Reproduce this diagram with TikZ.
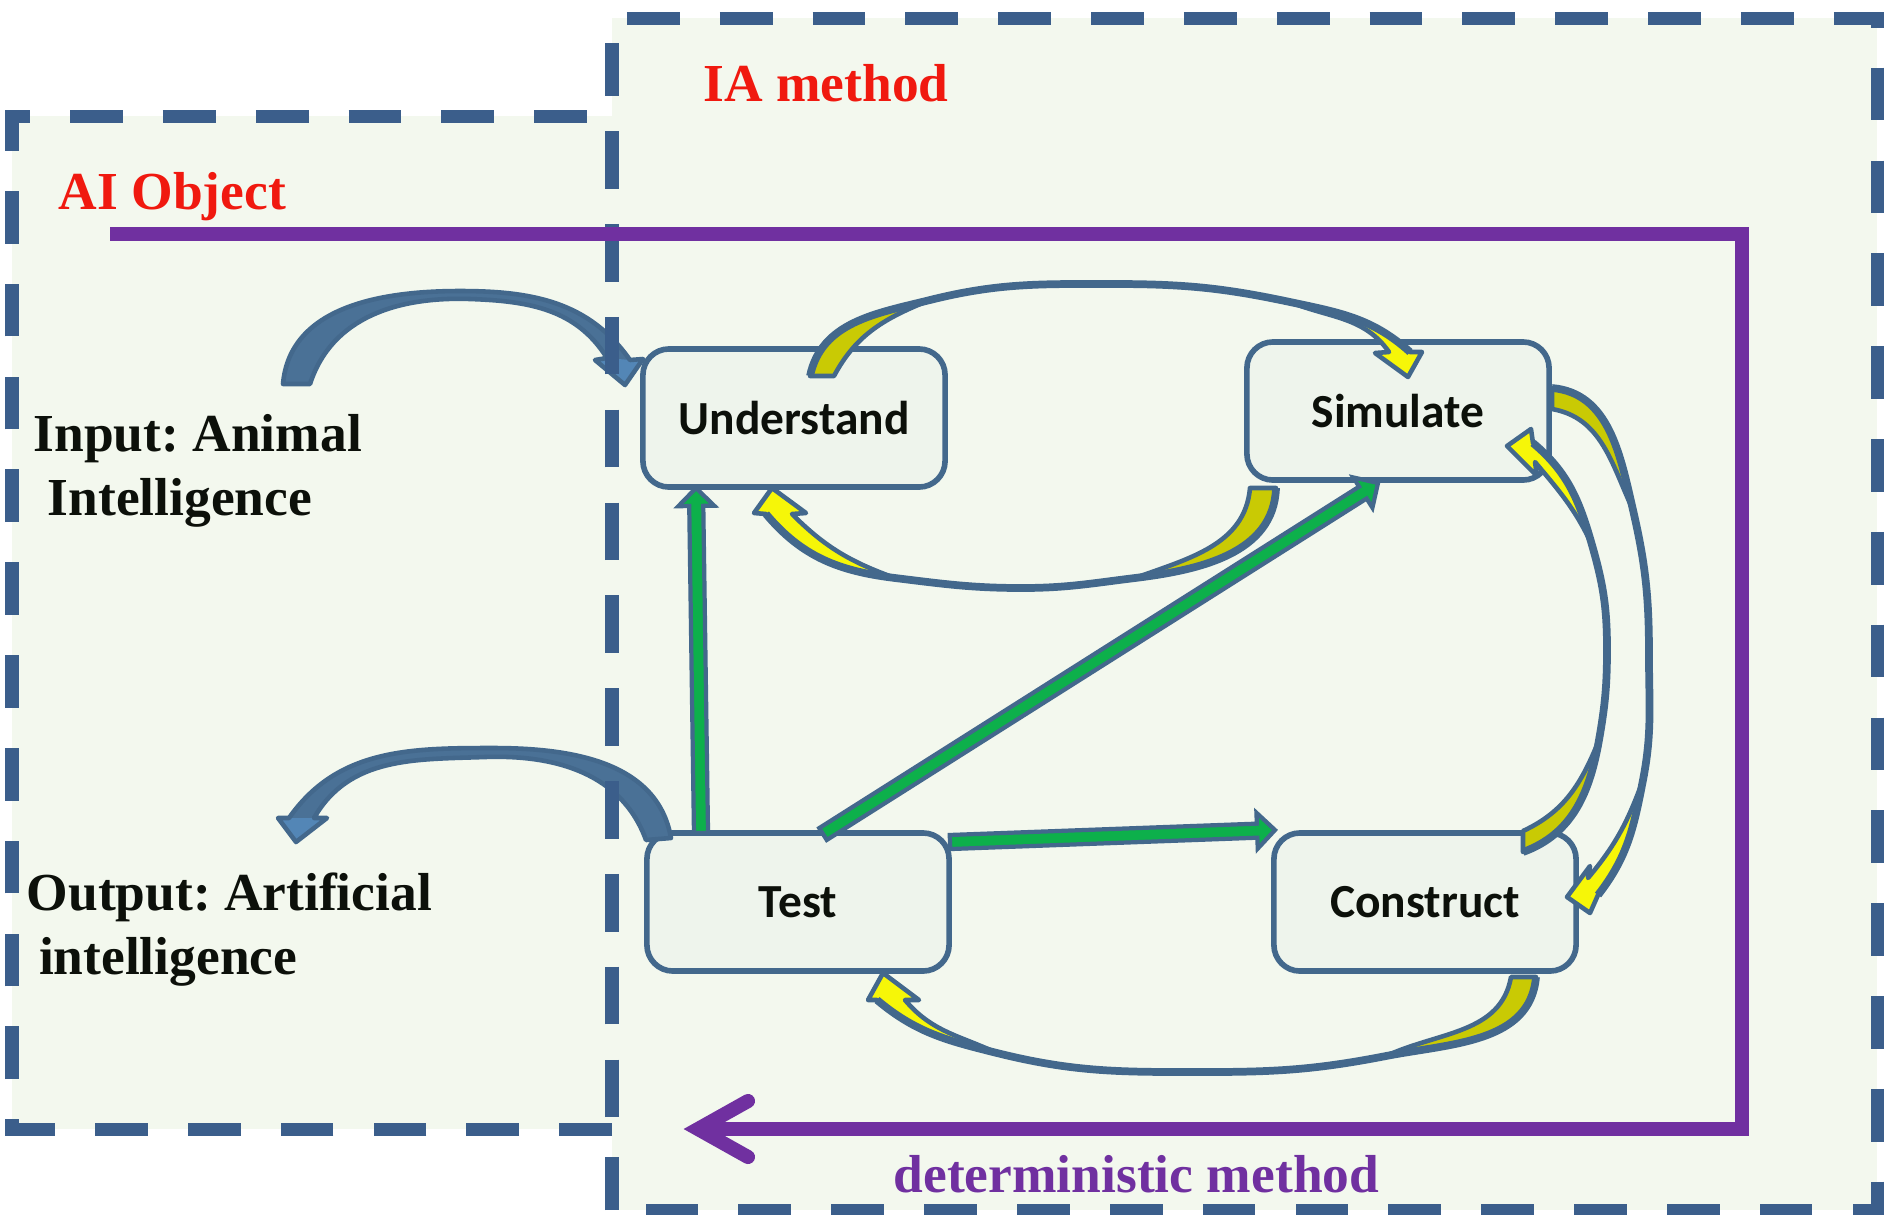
\documentclass[tikz,border=0pt]{standalone}
\usepackage{fontspec}
\setmainfont{Liberation Serif}
\newfontfamily\carlito{Carlito}
\usetikzlibrary{calc}
\definecolor{dashblue}{HTML}{3B5E8B}
\definecolor{edgeblue}{HTML}{43688C}
\definecolor{regionfill}{HTML}{F3F8EE}
\definecolor{stagefill}{HTML}{EEF4EC}
\definecolor{ribolive}{HTML}{C9CA04}
\definecolor{ribyellow}{HTML}{F6F608}
\definecolor{blkgreen}{HTML}{0DB04B}
\definecolor{detpurple}{HTML}{7030A0}
\definecolor{lblred}{HTML}{F0190F}
\definecolor{bodyblue}{HTML}{4A7196}
\definecolor{headblue}{HTML}{5386B6}
\definecolor{inkblack}{HTML}{0C100A}
\newcommand\placept[3]{\path (#1.center) ++(#2) coordinate (#3);}
\newcommand\blockarrow[2]{%
  \path ($(#2)!5.1pt!(#1)$) coordinate (#1#2h);
  \draw[garrow] ($(#1)!2pt!90:(#2)$) -- ($(#1#2h)!2pt!90:(#2)$) -- ($(#1#2h)!5.1pt!90:(#2)$) -- (#2) -- ($(#1#2h)!5.1pt!-90:(#2)$) -- ($(#1#2h)!2pt!-90:(#2)$) -- ($(#1)!2pt!-90:(#2)$) -- cycle;}
\begin{document}
\begin{tikzpicture}[x=0.01cm,y=0.01cm,
  stage/.style={draw=edgeblue, line width=1.6pt, fill=stagefill, rounded corners=0.26cm, minimum width=3.02cm, minimum height=1.38cm, inner sep=0pt, font=\carlito\bfseries\fontsize{13.5}{16}\selectfont, text=inkblack},
  region/.style={draw=dashblue, line width=3.7pt, dash pattern=on 15pt off 11.4pt},
  ribedge/.style={draw=edgeblue, line width=1.3pt, line join=round},
  ribspine/.style={draw=edgeblue, line width=2.2pt},
  garrow/.style={draw=edgeblue, line width=1.2pt, fill=blkgreen, line join=miter},
  barrow/.style={draw=edgeblue, line width=1.3pt, line join=round},
  detline/.style={draw=detpurple, line width=4pt},
  lbl/.style={font=\bfseries\fontsize{15.2}{18.2}\selectfont\frenchspacing, text=inkblack, inner sep=0pt, align=left},
  title/.style={font=\bfseries\fontsize{15.2}{18.2}\selectfont\frenchspacing, inner sep=0pt}
]
\fill[white] (0,0) rectangle (1884,-1214);
\useasboundingbox (0,0) rectangle (1884,-1214);
\fill[regionfill] (612,-18) rectangle (1877,-1210);
\fill[regionfill] (12,-116) rectangle (612,-1129);

% stages
\node[stage] (und) at (794,-418) {Understand};
\node[stage] (sim) at (1398,-411) {Simulate};
\node[stage] (tst) at (798,-902) {Test};
\node[stage] (con) at (1425,-902) {Construct};

% ---- ribbon A: Understand -> Simulate (top)
\placept{und}{16,42}{aS1} \placept{und}{40,42}{aS2}
\placept{sim}{12,59}{aE1} \placept{sim}{-9,59}{aE2}
\placept{sim}{24,59}{aH1} \placept{sim}{10,34}{aT} \placept{sim}{-23,58}{aH2}
\coordinate (aM1) at (930,-300); \coordinate (aP) at (1113,-284); \coordinate (aM2) at (1290,-302);
\draw[ribedge, fill=ribolive] (aS1) to[out=78,in=194] (aM1) to[out=202,in=62] (aS2) -- cycle;
\draw[ribedge, fill=ribyellow] (aM2) to[out=-12,in=138] (aE1) -- (aH1) -- (aT) -- (aH2) -- (aE2) to[out=125,in=-22] (aM2) -- cycle;
\draw[ribspine] (aS1) to[out=78,in=194] (aM1) to[out=14,in=180] (aP) to[out=0,in=168] (aM2) to[out=-12,in=138] (aE1);

% ---- ribbon B: Simulate -> Understand (bottom)
\placept{sim}{-122,-77}{bS1} \placept{sim}{-148,-77}{bS2}
\placept{und}{-28,-96}{bE1} \placept{und}{-2,-96}{bE2}
\placept{und}{-40,-95}{bH1} \placept{und}{-22,-70}{bT} \placept{und}{12,-95}{bH2}
\coordinate (bM1) at (1135,-578); \coordinate (bP) at (1022,-588); \coordinate (bM2) at (895,-578);
\draw[ribedge, fill=ribolive] (bS1) to[out=-92,in=7] (bM1) to[out=20,in=-95] (bS2) -- cycle;
\draw[ribedge, fill=ribyellow] (bM2) to[out=173,in=-50] (bE1) -- (bH1) -- (bT) -- (bH2) -- (bE2) to[out=-45,in=160] (bM2) -- cycle;
\draw[ribspine] (bS1) to[out=-92,in=7] (bM1) to[out=187,in=0] (bP) to[out=180,in=-7] (bM2) to[out=173,in=-50] (bE1);

% ---- ribbon C: Simulate -> Construct (outer right)
\placept{sim}{154,23}{cS1} \placept{sim}{154,2}{cS2}
\placept{con}{173,7}{cE1} \placept{con}{163,24}{cE2}
\placept{con}{165,-11}{cH1} \placept{con}{142,5}{cT} \placept{con}{165,36}{cH2}
\coordinate (cM1) at (1633,-510); \coordinate (cP) at (1649,-656); \coordinate (cM2) at (1643,-780);
\draw[ribedge, fill=ribolive] (cS1) to[out=-5,in=103] (cM1) to[out=115,in=-10] (cS2) -- cycle;
\draw[ribedge, fill=ribyellow] (cM2) to[out=-101,in=52] (cE1) -- (cH1) -- (cT) -- (cH2) -- (cE2) to[out=50,in=-110] (cM2) -- cycle;
\draw[ribspine] (cS1) to[out=-5,in=103] (cM1) to[out=-77,in=90] (cP) to[out=-90,in=79] (cM2) to[out=-101,in=52] (cE1);

% ---- ribbon D: Construct -> Simulate (inner right)
\placept{con}{98,50}{dS1} \placept{con}{98,71}{dS2}
\placept{sim}{135,-32}{dE1} \placept{sim}{137,-51}{dE2}
\placept{sim}{133,-18}{dH1} \placept{sim}{109,-35}{dT} \placept{sim}{139,-65}{dH2}
\coordinate (dM1) at (1599,-740); \coordinate (dP) at (1607,-649); \coordinate (dM2) at (1592,-545);
\draw[ribedge, fill=ribolive] (dS1) to[out=20,in=-100] (dM1) to[out=-112,in=25] (dS2) -- cycle;
\draw[ribedge, fill=ribyellow] (dM2) to[out=106,in=-40] (dE1) -- (dH1) -- (dT) -- (dH2) -- (dE2) to[out=-50,in=115] (dM2) -- cycle;
\draw[ribspine] (dS1) to[out=20,in=-100] (dM1) to[out=80,in=-90] (dP) to[out=90,in=-74] (dM2) to[out=106,in=-40] (dE1);

% ---- ribbon E: Construct -> Test (bottom)
\placept{con}{111,-75}{eS1} \placept{con}{86,-75}{eS2}
\placept{tst}{79,-98}{eE1} \placept{tst}{107,-98}{eE2}
\placept{tst}{70,-98}{eH1} \placept{tst}{85,-71}{eT} \placept{tst}{121,-98}{eH2}
\coordinate (eM1) at (1386,-1056); \coordinate (eP) at (1207,-1072); \coordinate (eM2) at (997,-1053);
\draw[ribedge, fill=ribolive] (eS1) to[out=-95,in=11] (eM1) to[out=25,in=-100] (eS2) -- cycle;
\draw[ribedge, fill=ribyellow] (eM2) to[out=166,in=-40] (eE1) -- (eH1) -- (eT) -- (eH2) -- (eE2) to[out=-50,in=155] (eM2) -- cycle;
\draw[ribspine] (eS1) to[out=-95,in=11] (eM1) to[out=191,in=0] (eP) to[out=180,in=-14] (eM2) to[out=166,in=-40] (eE1);

% ---- green block arrows
\placept{tst}{-97,69}{g1s} \placept{und}{-98,-70}{g1t}
\placept{tst}{25,68}{g2s} \placept{sim}{-20,-72}{g2t}
\placept{tst}{152,60}{g3s} \placept{con}{-150,72}{g3t}
\blockarrow{g1s}{g1t}
\blockarrow{g2s}{g2t}
\blockarrow{g3s}{g3t}

% ---- input arrow (blue)
\coordinate (iS1) at (283,-384); \coordinate (iS2) at (310,-384);
\coordinate (iP) at (460,-291); \coordinate (iQ) at (470,-299);
\placept{und}{-164,58}{iE1} \placept{und}{-187,60}{iE2}
\placept{und}{-151,59}{iH1} \placept{und}{-169,33}{iT} \placept{und}{-199,58}{iH2}
\fill[bodyblue] (iS1) to[out=85,in=180] (iP) to[out=0,in=125] (iE1) -- (iH1) -- (iT) -- (iH2) -- (iE2) to[out=122,in=-2] (iQ) to[out=178,in=72] (iS2) -- cycle;
\fill[headblue] (iE1) -- (iH1) -- (iT) -- (iH2) -- (iE2) -- cycle;
\draw[barrow] (iS1) to[out=85,in=180] (iP) to[out=0,in=125] (iE1) -- (iH1) -- (iT) -- (iH2) -- (iE2) to[out=122,in=-2] (iQ) to[out=178,in=72] (iS2) -- cycle;

% ---- output arrow (blue)
\placept{tst}{-127,64}{oS1} \placept{tst}{-152,62}{oS2}
\coordinate (oP) at (493,-748); \coordinate (oQ) at (485,-757);
\coordinate (oE1) at (289,-818); \coordinate (oE2) at (314,-818);
\coordinate (oH1) at (278,-818); \coordinate (oT) at (296,-842); \coordinate (oH2) at (327,-818);
\fill[bodyblue] (oS1) to[out=100,in=0] (oP) to[out=180,in=55] (oE1) -- (oH1) -- (oT) -- (oH2) -- (oE2) to[out=60,in=182] (oQ) to[out=2,in=110] (oS2) -- cycle;
\fill[headblue] (oE1) -- (oH1) -- (oT) -- (oH2) -- (oE2) -- cycle;
\draw[barrow] (oS1) to[out=100,in=0] (oP) to[out=180,in=55] (oE1) -- (oH1) -- (oT) -- (oH2) -- (oE2) to[out=60,in=182] (oQ) to[out=2,in=110] (oS2) -- cycle;

% ---- dashed regions
\draw[region] (612,-1210) -- (612,-18) -- (1877,-18) -- (1877,-1210) -- cycle;
\draw[region] (612,-1129) -- (12,-1129) -- (12,-116) -- (612,-116) -- cycle;

% ---- deterministic method loop
\coordinate (detA) at (110,-234); \coordinate (detB) at (1742,-234);
\coordinate (detC) at (1742,-1129); \coordinate (detD) at (698,-1129);
\coordinate (detE) at (748,-1101); \coordinate (detF) at (748,-1157);
\draw[detline] (detA) -- (detB) -- (detC) -- (detD);
\draw[detline, line cap=round, line join=miter] (detE) -- (detD) -- (detF);

% ---- labels
\node[title, text=lblred, anchor=base west] (iatitle) at (703,-101) {IA method};
\node[title, text=lblred, anchor=base west] (aititle) at (58,-209) {AI Object};
\node[lbl, anchor=base west] (inlbl) at (33,-515) {Input: Animal\\\hspace*{4pt}Intelligence};
\node[lbl, anchor=base west] (outlbl) at (26,-974) {Output: Artificial\\\hspace*{3.5pt}intelligence};
\node[title, text=detpurple, anchor=base west] (detlbl) at (893,-1192) {deterministic method};
\end{tikzpicture}
\end{document}
